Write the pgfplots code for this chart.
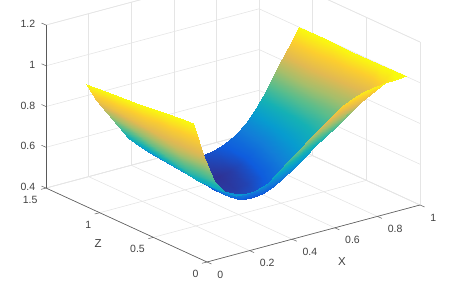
\documentclass[border=0pt]{standalone}
\usepackage{pgfplots}
\pgfplotsset{compat=1.18}
\usepackage{fontspec}
\setmainfont{Liberation Sans}
\definecolor{axc}{RGB}{90,90,90}
\definecolor{txc}{RGB}{64,64,64}
\pgfplotsset{colormap={parula}{rgb255(0)=(53,42,135) rgb255(1)=(15,92,221) rgb255(2)=(18,125,216) rgb255(3)=(7,156,207) rgb255(4)=(21,177,180) rgb255(5)=(89,189,140) rgb255(6)=(165,190,107) rgb255(7)=(225,185,82) rgb255(8)=(252,206,46) rgb255(9)=(249,251,14)}}
\begin{document}
\begin{tikzpicture}
\path[use as bounding box] (0,0) rectangle (449pt,291pt);
\clip (0,0) rectangle (449pt,291pt);
\begin{axis}[
  at={(207pt,29pt)}, anchor=origin,
  x={(213pt,57pt)}, y={(-107.3pt,49.3pt)}, z={(0pt,203.75pt)},
  xmin=0,xmax=1,ymin=0,ymax=1.5,zmin=0.4,zmax=1.2,
  xtick={0,0.2,0.4,0.6,0.8,1},
  ytick={0,0.5,1,1.5},
  ztick={0.4,0.6,0.8,1,1.2},
  3d box=background,
  xtick pos=lower, ytick pos=lower, ztick pos=left,
  grid=major,
  grid style={draw=black!10,line width=0.6pt},
  axis line style={draw=black!10,line width=0.6pt},
  tick style={draw=none},
  every x tick/.style={draw=none},
  every y tick/.style={draw=none},
  every z tick/.style={draw=none},
  tick align=outside,
  major tick length=3.5pt,
  clip=false,
  /pgf/number format/assume math mode=true,
  /pgf/number format/fixed,
  tick label style={font=\fontsize{10.5}{12}\selectfont,text=txc},
  xticklabel style={anchor=west,inner sep=0pt,xshift=7pt,yshift=-11pt},
  yticklabel style={anchor=east,inner sep=0pt,xshift=-5pt,yshift=-11pt},
  zticklabel style={anchor=east,inner sep=0pt,xshift=-7.5pt,yshift=-0.5pt},
  point meta min=0.46, point meta max=1.0,
]
\addplot3[surf,shader=interp,z buffer=sort,mesh/cols=21] coordinates {
(0,1.13,1.00) (0.05,1.13,0.91) (0.1,1.13,0.83) (0.15,1.13,0.75) (0.2,1.13,0.68) (0.25,1.13,0.625) (0.3,1.13,0.58) (0.35,1.13,0.545) (0.4,1.13,0.52) (0.45,1.13,0.505) (0.5,1.13,0.50) (0.55,1.13,0.50) (0.6,1.13,0.51) (0.65,1.13,0.525) (0.7,1.13,0.555) (0.75,1.13,0.60) (0.8,1.13,0.66) (0.85,1.13,0.74) (0.9,1.13,0.825) (0.95,1.13,0.91) (1,1.13,1.00)

(0,0.88,1.01) (0.05,0.88,0.90) (0.1,0.88,0.80) (0.15,0.88,0.72) (0.2,0.88,0.655) (0.25,0.88,0.61) (0.3,0.88,0.565) (0.35,0.88,0.525) (0.4,0.88,0.49) (0.45,0.88,0.47) (0.5,0.88,0.47) (0.55,0.88,0.48) (0.6,0.88,0.50) (0.65,0.88,0.535) (0.7,0.88,0.58) (0.75,0.88,0.63) (0.8,0.88,0.69) (0.85,0.88,0.76) (0.9,0.88,0.84) (0.95,0.88,0.92) (1,0.88,1.00)

(0,0.63,1.025) (0.05,0.63,0.88) (0.1,0.63,0.76) (0.15,0.63,0.685) (0.2,0.63,0.64) (0.25,0.63,0.595) (0.3,0.63,0.55) (0.35,0.63,0.505) (0.4,0.63,0.48) (0.45,0.63,0.48) (0.5,0.63,0.49) (0.55,0.63,0.51) (0.6,0.63,0.54) (0.65,0.63,0.585) (0.7,0.63,0.63) (0.75,0.63,0.67) (0.8,0.63,0.72) (0.85,0.63,0.77) (0.9,0.63,0.835) (0.95,0.63,0.91) (1,0.63,1.00)

(0,0.38,1.04) (0.05,0.38,0.85) (0.1,0.38,0.72) (0.15,0.38,0.665) (0.2,0.38,0.625) (0.25,0.38,0.585) (0.3,0.38,0.545) (0.35,0.38,0.515) (0.4,0.38,0.508) (0.45,0.38,0.515) (0.5,0.38,0.536) (0.55,0.38,0.565) (0.6,0.38,0.60) (0.65,0.38,0.64) (0.7,0.38,0.68) (0.75,0.38,0.715) (0.8,0.38,0.75) (0.85,0.38,0.785) (0.9,0.38,0.83) (0.95,0.38,0.90) (1,0.38,1.00)

(0,0.255,1.045) (0.05,0.255,0.86) (0.1,0.255,0.73) (0.15,0.255,0.665) (0.2,0.255,0.63) (0.25,0.255,0.608) (0.3,0.255,0.59) (0.35,0.255,0.588) (0.4,0.255,0.60) (0.45,0.255,0.63) (0.5,0.255,0.66) (0.55,0.255,0.695) (0.6,0.255,0.733) (0.65,0.255,0.773) (0.7,0.255,0.81) (0.75,0.255,0.84) (0.8,0.255,0.865) (0.85,0.255,0.888) (0.9,0.255,0.913) (0.95,0.255,0.949) (1,0.255,1.00)

(0,0.13,1.05) (0.05,0.13,0.87) (0.1,0.13,0.74) (0.15,0.13,0.67) (0.2,0.13,0.635) (0.25,0.13,0.63) (0.3,0.13,0.638) (0.35,0.13,0.66) (0.4,0.13,0.70) (0.45,0.13,0.742) (0.5,0.13,0.785) (0.55,0.13,0.825) (0.6,0.13,0.865) (0.65,0.13,0.905) (0.7,0.13,0.94) (0.75,0.13,0.965) (0.8,0.13,0.98) (0.85,0.13,0.99) (0.9,0.13,0.995) (0.95,0.13,0.998) (1,0.13,1.00)
};
\draw[axc,line width=0.6pt] (axis cs:0,1.5,0.4) -- (axis cs:0,1.5,1.2);
\draw[axc,line width=0.6pt] (axis cs:0,1.5,0.4) -- (axis cs:0,0,0.4) -- (axis cs:1,0,0.4);
\foreach \v in {0.4,0.6,0.8,1,1.2} {
  \edef\temp{\noexpand\draw[axc,line width=0.5pt] (axis cs:0,1.5,\v) -- ++(-4.5pt,2pt);}\temp
}
\foreach \v in {0,0.2,0.4,0.6,0.8,1} {
  \edef\temp{\noexpand\draw[axc,line width=0.5pt] (axis cs:\v,0,0.4) -- ++(4.5pt,-2pt);}\temp
}
\foreach \v in {0,0.5,1,1.5} {
  \edef\temp{\noexpand\draw[axc,line width=0.5pt] (axis cs:0,\v,0.4) -- ++(-5pt,-1.3pt);}\temp
}
\node[font=\fontsize{11.5}{13}\selectfont,text=txc] at (axis cs:0.4,-0.463,0.4) {X};
\node[font=\fontsize{11.5}{13}\selectfont,text=txc] at (axis cs:-0.207,0.604,0.4) {Z};
\end{axis}
\end{tikzpicture}
\end{document}
